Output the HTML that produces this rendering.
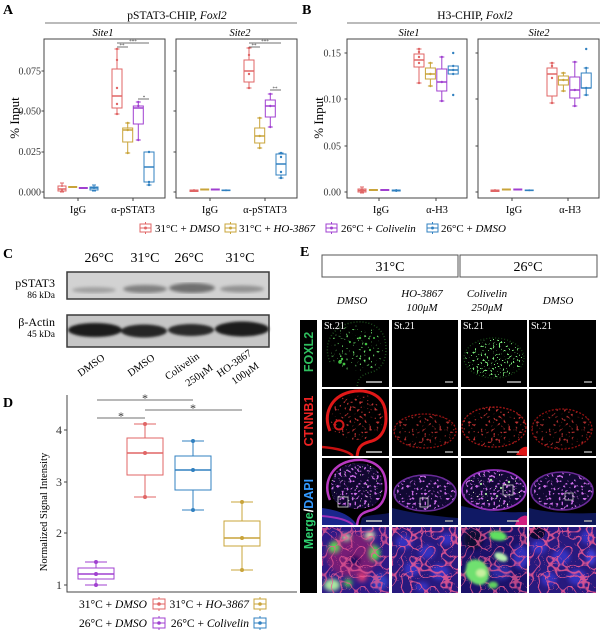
<!DOCTYPE html>
<html><head><meta charset="utf-8"><style>html,body{margin:0;padding:0;background:#fff}svg{display:block}</style></head>
<body>
<svg width="600" height="631" viewBox="0 0 600 631" xmlns="http://www.w3.org/2000/svg" font-family="'Liberation Serif', serif">
<style>
.r{stroke:#e06666;fill:none;stroke-width:1}
.y{stroke:#c9a43a;fill:none;stroke-width:1}
.p{stroke:#a040d0;fill:none;stroke-width:1}
.b{stroke:#3080c0;fill:none;stroke-width:1}
.r rect,.y rect,.p rect,.b rect{fill:#fff}
.m{stroke-width:1.5}
.rp{fill:#e06666}.yp{fill:#c9a43a}.pp{fill:#a040d0}.bp{fill:#3080c0}
.ax{stroke:#444;fill:none;stroke-width:1}
.tk{font-size:10px;fill:#333}
.sig{stroke:#444;stroke-width:0.8}
</style>
<defs>
<filter id="gsp" x="0" y="0" width="1" height="1"><feTurbulence type="fractalNoise" baseFrequency="0.45" numOctaves="1" seed="4" result="n"/><feColorMatrix in="n" type="matrix" values="0 0 0 0 0.15  0 0 0 0 0.75  0 0 0 0 0.15  12 0 0 0 -7.6" result="c"/><feComposite in="c" in2="SourceGraphic" operator="in"/></filter>
<filter id="gsp2" x="0" y="0" width="1" height="1"><feTurbulence type="fractalNoise" baseFrequency="0.5" numOctaves="1" seed="9" result="n"/><feColorMatrix in="n" type="matrix" values="0 0 0 0 0.2  0 0 0 0 0.85  0 0 0 0 0.2  12 0 0 0 -7.2" result="c"/><feComposite in="c" in2="SourceGraphic" operator="in"/></filter>
<filter id="rsp" x="0" y="0" width="1" height="1"><feTurbulence type="fractalNoise" baseFrequency="0.4" numOctaves="1" seed="7" result="n"/><feColorMatrix in="n" type="matrix" values="0 0 0 0 0.85  0 0 0 0 0.05  0 0 0 0 0.05  11 0 0 0 -6.6" result="c"/><feComposite in="c" in2="SourceGraphic" operator="in"/></filter>
<filter id="psp" x="0" y="0" width="1" height="1"><feTurbulence type="fractalNoise" baseFrequency="0.4" numOctaves="1" seed="12" result="n"/><feColorMatrix in="n" type="matrix" values="0 0 0 0 0.6  0 0 0 0 0.15  0 0 0 0 0.8  11 0 0 0 -6.4" result="c"/><feComposite in="c" in2="SourceGraphic" operator="in"/></filter>
<filter id="wsp" x="0" y="0" width="1" height="1"><feTurbulence type="fractalNoise" baseFrequency="0.5" numOctaves="1" seed="21" result="n"/><feColorMatrix in="n" type="matrix" values="0 0 0 0 0.9  0 0 0 0 1  0 0 0 0 0.7  14 0 0 0 -9.6" result="c"/><feComposite in="c" in2="SourceGraphic" operator="in"/></filter>
<filter id="pnet" x="0" y="0" width="1" height="1"><feTurbulence type="turbulence" baseFrequency="0.1" numOctaves="1" seed="3" result="n"/><feColorMatrix in="n" type="matrix" values="0 0 0 0 0.85  0 0 0 0 0.1  0 0 0 0 0.3  -20 0 0 0 1.5" result="c"/><feComposite in="c" in2="SourceGraphic" operator="in"/></filter>
<filter id="blur"><feGaussianBlur stdDeviation="1.6"/></filter>
<filter id="blur2"><feGaussianBlur stdDeviation="1.2"/></filter>
<filter id="blur3"><feGaussianBlur stdDeviation="2"/></filter>
</defs>
<rect width="600" height="631" fill="#fff"/>

<!-- ================= PANEL A ================= -->
<text x="3" y="14" font-size="14" font-weight="bold">A</text>
<text x="177" y="19" font-size="11.5" text-anchor="middle">pSTAT3-CHIP, <tspan font-style="italic">Foxl2</tspan></text>
<line x1="45" y1="23" x2="297" y2="23" stroke="#777" stroke-width="1"/>
<text x="103" y="36" font-size="10.5" font-style="italic" text-anchor="middle">Site1</text>
<text x="240" y="36" font-size="10.5" font-style="italic" text-anchor="middle">Site2</text>
<rect x="44" y="39" width="121" height="159" class="ax"/>
<rect x="176" y="39" width="121" height="159" class="ax"/>
<g class="tk" text-anchor="end">
<text x="41" y="74.5">0.075</text><text x="41" y="114.5">0.050</text><text x="41" y="155">0.025</text><text x="41" y="195.5">0.000</text>
</g>
<path class="ax" d="M41.5,71H44M41.5,111H44M41.5,152H44M41.5,192H44M173.5,71H176M173.5,111H176M173.5,152H176M173.5,192H176M78,198V201M133,198V201M210,198V201M265,198V201"/>
<text transform="translate(19,118) rotate(-90)" font-size="13" text-anchor="middle">% Input</text>
<g font-size="10.5" text-anchor="middle">
<text x="78" y="213">IgG</text><text x="133" y="213">α-pSTAT3</text>
<text x="210" y="213">IgG</text><text x="265" y="213">α-pSTAT3</text>
</g>
<!-- Site1 IgG -->
<g class="r"><path d="M62,183V186M62,191V192M60,183H64M60,192H64"/><rect x="58" y="186" width="8" height="5"/><path class="m" d="M58,189H66"/></g>
<g class="y"><path d="M72.7,186V188"/><rect x="68.7" y="186.5" width="8" height="1"/><path class="m" d="M68.7,187H76.7"/></g>
<g class="p"><path d="M83.3,187V189"/><rect x="79.3" y="187.5" width="8" height="1"/><path class="m" d="M79.3,188H87.3"/></g>
<g class="b"><path d="M94,185V187M94,190V191M92,185H96M92,191H96"/><rect x="90" y="187" width="8" height="3"/><path class="m" d="M90,188H98"/></g>
<!-- Site1 pSTAT3 -->
<g class="r"><path d="M117,49V69M117,108V114M114.5,49H119.5M114.5,114H119.5"/><rect x="112" y="69" width="10" height="39"/><path class="m" d="M112,96H122"/></g>
<g class="y"><path d="M127.7,123V128M127.7,142V153M125.2,123H130.2M125.2,153H130.2"/><rect x="122.7" y="128" width="10" height="14"/><path class="m" d="M122.7,130H132.7"/></g>
<g class="p"><path d="M138.3,102V106M138.3,124V140M135.8,102H140.8M135.8,140H140.8"/><rect x="133.3" y="106" width="10" height="18"/><path class="m" d="M133.3,108H143.3"/></g>
<g class="b"><path d="M149,182V185M146.5,152H151.5M146.5,185H151.5"/><rect x="144" y="152" width="10" height="30"/><path class="m" d="M144,167H154"/></g>
<g><circle class="rp" cx="117" cy="49" r="1.2"/><circle class="rp" cx="117" cy="60" r="1.2"/><circle class="rp" cx="117" cy="88" r="1.2"/><circle class="rp" cx="117" cy="104" r="1.2"/><circle class="rp" cx="117" cy="114" r="1.2"/>
<circle class="yp" cx="127.7" cy="123" r="1.2"/><circle class="yp" cx="127.7" cy="130" r="1.2"/><circle class="yp" cx="127.7" cy="153" r="1.2"/>
<circle class="pp" cx="138.3" cy="102" r="1.2"/><circle class="pp" cx="138.3" cy="106" r="1.2"/><circle class="pp" cx="138.3" cy="140" r="1.2"/>
<circle class="bp" cx="149" cy="152" r="1.2"/><circle class="bp" cx="149" cy="182" r="1.2"/><circle class="bp" cx="149" cy="185" r="1.2"/>
<circle class="rp" cx="62" cy="186" r="1"/><circle class="rp" cx="62" cy="190" r="1"/><circle class="yp" cx="72.7" cy="187" r="1"/><circle class="pp" cx="83.3" cy="188" r="1"/><circle class="bp" cx="94" cy="188" r="1"/></g>
<path class="sig" d="M117,43H149M117,47H128M138,99H149"/>
<g font-size="5" text-anchor="middle" fill="#444"><text x="133" y="43">***</text><text x="122" y="47">**</text><text x="144" y="99">*</text></g>
<!-- Site2 IgG -->
<g class="r"><path d="M194,189V192"/><rect x="190" y="190" width="8" height="1.5"/><path class="m" d="M190,191H198"/></g>
<g class="y"><path d="M204.7,188.5V190.5"/><rect x="200.7" y="189" width="8" height="1"/><path class="m" d="M200.7,189.5H208.7"/></g>
<g class="p"><path d="M215.3,188.5V190.5"/><rect x="211.3" y="189" width="8" height="1"/><path class="m" d="M211.3,189.5H219.3"/></g>
<g class="b"><path d="M226,189.5V191"/><rect x="222" y="190" width="8" height="0.6"/><path class="m" d="M222,190.3H230"/></g>
<!-- Site2 pSTAT3 -->
<g class="r"><path d="M249,48V60M249,82V88M246.5,48H251.5M246.5,88H251.5"/><rect x="244" y="60" width="10" height="22"/><path class="m" d="M244,71H254"/></g>
<g class="y"><path d="M259.7,118V128M259.7,143V148M257.2,118H262.2M257.2,148H262.2"/><rect x="254.7" y="128" width="10" height="15"/><path class="m" d="M254.7,136H264.7"/></g>
<g class="p"><path d="M270.3,94V100M270.3,117V127M267.8,94H272.8M267.8,127H272.8"/><rect x="265.3" y="100" width="10" height="17"/><path class="m" d="M265.3,106H275.3"/></g>
<g class="b"><path d="M281,153V154M281,175V178M278.5,153H283.5M278.5,178H283.5"/><rect x="276" y="154" width="10" height="21"/><path class="m" d="M276,164H286"/></g>
<g><circle class="rp" cx="249" cy="48" r="1.2"/><circle class="rp" cx="249" cy="55" r="1.2"/><circle class="rp" cx="249" cy="74" r="1.2"/><circle class="rp" cx="249" cy="88" r="1.2"/>
<circle class="yp" cx="259.7" cy="118" r="1.2"/><circle class="yp" cx="259.7" cy="136" r="1.2"/><circle class="yp" cx="259.7" cy="148" r="1.2"/>
<circle class="pp" cx="270.3" cy="94" r="1.2"/><circle class="pp" cx="270.3" cy="106" r="1.2"/><circle class="pp" cx="270.3" cy="127" r="1.2"/>
<circle class="bp" cx="281" cy="153" r="1.2"/><circle class="bp" cx="281" cy="157" r="1.2"/><circle class="bp" cx="281" cy="172" r="1.2"/><circle class="bp" cx="281" cy="178" r="1.2"/>
<circle class="rp" cx="194" cy="191" r="1"/><circle class="yp" cx="204.7" cy="189.5" r="1"/><circle class="pp" cx="215.3" cy="189.5" r="1"/><circle class="bp" cx="226" cy="190.3" r="1"/></g>
<path class="sig" d="M249,43H281M249,47H260M270,90H281"/>
<g font-size="5" text-anchor="middle" fill="#444"><text x="265" y="43">***</text><text x="254" y="47">**</text><text x="275" y="90">**</text></g>

<!-- ================= PANEL B ================= -->
<text x="302" y="14" font-size="14" font-weight="bold">B</text>
<text x="475" y="19" font-size="11.5" text-anchor="middle">H3-CHIP, <tspan font-style="italic">Foxl2</tspan></text>
<line x1="347" y1="23" x2="600" y2="23" stroke="#777" stroke-width="1"/>
<text x="409" y="36" font-size="10.5" font-style="italic" text-anchor="middle">Site1</text>
<text x="539" y="36" font-size="10.5" font-style="italic" text-anchor="middle">Site2</text>
<rect x="347" y="39" width="120" height="159" class="ax"/>
<rect x="478" y="39" width="121" height="159" class="ax"/>
<g class="tk" text-anchor="end">
<text x="341" y="56.5">0.15</text><text x="341" y="102.5">0.10</text><text x="341" y="149.5">0.05</text><text x="341" y="195.5">0.00</text>
</g>
<path class="ax" d="M344.5,53H347M344.5,99H347M344.5,146H347M344.5,192H347M475.5,53H478M475.5,99H478M475.5,146H478M475.5,192H478M379,198V201M436,198V201M512,198V201M568,198V201"/>
<text transform="translate(323,118) rotate(-90)" font-size="13" text-anchor="middle">% Input</text>
<g font-size="10.5" text-anchor="middle">
<text x="381" y="213">IgG</text><text x="437" y="213">α-H3</text>
<text x="514" y="213">IgG</text><text x="570" y="213">α-H3</text>
</g>
<!-- B Site1 IgG -->
<g class="r"><path d="M362,187V193M360,187H364M360,193H364"/><rect x="358" y="189" width="8" height="3"/><path class="m" d="M358,190.5H366"/></g>
<g class="y"><path d="M373.4,189V191"/><rect x="369.4" y="189.5" width="8" height="1"/><path class="m" d="M369.4,190H377.4"/></g>
<g class="p"><path d="M384.8,189V191"/><rect x="380.8" y="189.5" width="8" height="1"/><path class="m" d="M380.8,190H388.8"/></g>
<g class="b"><path d="M396.2,189V192"/><rect x="392.2" y="190" width="8" height="1"/><path class="m" d="M392.2,190.5H400.2"/></g>
<!-- B Site1 H3 -->
<g class="r"><path d="M419,49V54M419,67V83M416.5,49H421.5M416.5,83H421.5"/><rect x="414" y="54" width="10" height="13"/><path class="m" d="M414,60H424"/></g>
<g class="y"><path d="M430.4,63V68M430.4,79V86M427.9,63H432.9M427.9,86H432.9"/><rect x="425.4" y="68" width="10" height="11"/><path class="m" d="M425.4,74H435.4"/></g>
<g class="p"><path d="M441.8,57V69M441.8,91V101M439.3,57H444.3M439.3,101H444.3"/><rect x="436.8" y="69" width="10" height="22"/><path class="m" d="M436.8,82H446.8"/></g>
<g class="b"><path d="M450.7,66H455.7M450.7,74H455.7"/><rect x="448.2" y="66" width="10" height="8"/><path class="m" d="M448.2,70H458.2"/></g>
<g><circle class="rp" cx="419" cy="49" r="1.2"/><circle class="rp" cx="419" cy="52" r="1.2"/><circle class="rp" cx="419" cy="57" r="1.2"/><circle class="rp" cx="419" cy="63" r="1.2"/><circle class="rp" cx="419" cy="83" r="1.2"/>
<circle class="yp" cx="430.4" cy="63" r="1.2"/><circle class="yp" cx="430.4" cy="74" r="1.2"/><circle class="yp" cx="430.4" cy="86" r="1.2"/>
<circle class="pp" cx="441.8" cy="57" r="1.2"/><circle class="pp" cx="441.8" cy="82" r="1.2"/><circle class="pp" cx="441.8" cy="101" r="1.2"/>
<circle class="bp" cx="453.2" cy="53" r="1.2"/><circle class="bp" cx="453.2" cy="66" r="1.2"/><circle class="bp" cx="453.2" cy="70" r="1.2"/><circle class="bp" cx="453.2" cy="74" r="1.2"/><circle class="bp" cx="453.2" cy="95" r="1.2"/>
<circle class="rp" cx="362" cy="190.5" r="1.8"/><circle class="yp" cx="373.4" cy="190" r="1"/><circle class="pp" cx="384.8" cy="190" r="1"/><circle class="bp" cx="396.2" cy="190.5" r="1.3"/></g>
<!-- B Site2 IgG -->
<g class="r"><path d="M495,189V192"/><rect x="491" y="190" width="8" height="1.5"/><path class="m" d="M491,190.8H499"/></g>
<g class="y"><path d="M506.4,188.5V190.5"/><rect x="502.4" y="189" width="8" height="1"/><path class="m" d="M502.4,189.5H510.4"/></g>
<g class="p"><path d="M517.8,188.5V190.5"/><rect x="513.8" y="189" width="8" height="1"/><path class="m" d="M513.8,189.5H521.8"/></g>
<g class="b"><path d="M529.2,189.5V191"/><rect x="525.2" y="190" width="8" height="0.6"/><path class="m" d="M525.2,190.3H533.2"/></g>
<!-- B Site2 H3 -->
<g class="r"><path d="M552,63V68M552,96V103M549.5,63H554.5M549.5,103H554.5"/><rect x="547" y="68" width="10" height="28"/><path class="m" d="M547,74H557"/></g>
<g class="y"><path d="M563.4,73V76M563.4,85V91M560.9,73H565.9M560.9,91H565.9"/><rect x="558.4" y="76" width="10" height="9"/><path class="m" d="M558.4,80H568.4"/></g>
<g class="p"><path d="M574.8,62V77M574.8,98V106M572.3,62H577.3M572.3,106H577.3"/><rect x="569.8" y="77" width="10" height="21"/><path class="m" d="M569.8,90H579.8"/></g>
<g class="b"><path d="M586.2,68V73M586.2,88V95M583.7,68H588.7M583.7,95H588.7"/><rect x="581.2" y="73" width="10" height="15"/><path class="m" d="M581.2,88H591.2"/></g>
<g><circle class="rp" cx="552" cy="63" r="1.2"/><circle class="rp" cx="552" cy="66" r="1.2"/><circle class="rp" cx="552" cy="78" r="1.2"/><circle class="rp" cx="552" cy="103" r="1.2"/>
<circle class="yp" cx="563.4" cy="73" r="1.2"/><circle class="yp" cx="563.4" cy="80" r="1.2"/><circle class="yp" cx="563.4" cy="91" r="1.2"/>
<circle class="pp" cx="574.8" cy="62" r="1.2"/><circle class="pp" cx="574.8" cy="90" r="1.2"/><circle class="pp" cx="574.8" cy="106" r="1.2"/>
<circle class="bp" cx="586.2" cy="49" r="1.2"/><circle class="bp" cx="586.2" cy="68" r="1.2"/><circle class="bp" cx="586.2" cy="88" r="1.2"/><circle class="bp" cx="586.2" cy="95" r="1.2"/>
<circle class="rp" cx="495" cy="190.8" r="1"/><circle class="yp" cx="506.4" cy="189.5" r="1"/><circle class="pp" cx="517.8" cy="189.5" r="1"/><circle class="bp" cx="529.2" cy="190.3" r="1"/></g>

<!-- Top legend -->
<g font-size="11">
<g class="r"><rect x="140" y="224" width="11" height="8"/><path d="M145.5,222V224M145.5,232V234M140,228H151"/></g><circle class="rp" cx="145.5" cy="228" r="1.5"/>
<text x="155" y="232">31°C + <tspan font-style="italic">DMSO</tspan></text>
<g class="y"><rect x="225" y="224" width="11" height="8"/><path d="M230.5,222V224M230.5,232V234M225,228H236"/></g><circle class="yp" cx="230.5" cy="228" r="1.5"/>
<text x="239" y="232">31°C + <tspan font-style="italic">HO-3867</tspan></text>
<g class="p"><rect x="326" y="224" width="11" height="8"/><path d="M331.5,222V224M331.5,232V234M326,228H337"/></g><circle class="pp" cx="331.5" cy="228" r="1.5"/>
<text x="341" y="232">26°C + <tspan font-style="italic">Colivelin</tspan></text>
<g class="b"><rect x="427" y="224" width="11" height="8"/><path d="M432.5,222V224M432.5,232V234M427,228H438"/></g><circle class="bp" cx="432.5" cy="228" r="1.5"/>
<text x="441" y="232">26°C + <tspan font-style="italic">DMSO</tspan></text>
</g>

<!-- ================= PANEL C ================= -->
<text x="3" y="258" font-size="14" font-weight="bold">C</text>
<g font-size="14" text-anchor="middle">
<text x="99" y="262">26°C</text><text x="145" y="262">31°C</text><text x="189" y="262">26°C</text><text x="240" y="262">31°C</text>
</g>
<rect x="67" y="272" width="202" height="27" fill="#d2d2d2" stroke="#3a3a3a" stroke-width="1.5"/>
<g filter="url(#blur)">
<ellipse cx="94" cy="290" rx="22" ry="3" fill="#a0a0a0"/>
<ellipse cx="145" cy="289" rx="22" ry="4" fill="#808080"/>
<ellipse cx="192" cy="288" rx="23" ry="5" fill="#707070"/>
<ellipse cx="242" cy="289" rx="22" ry="3.5" fill="#929292"/>
</g>
<rect x="67" y="315" width="202" height="32" fill="#c6c6c6" stroke="#3a3a3a" stroke-width="1.5"/>
<g filter="url(#blur2)">
<ellipse cx="95" cy="330" rx="27" ry="7" fill="#1c1c1c"/>
<ellipse cx="144" cy="331" rx="23" ry="6.5" fill="#262626"/>
<ellipse cx="191" cy="330" rx="23" ry="6" fill="#2a2a2a"/>
<ellipse cx="242" cy="329" rx="27" ry="7.5" fill="#1a1a1a"/>
</g>
<g text-anchor="end">
<text x="55" y="287" font-size="12">pSTAT3</text><text x="55" y="298" font-size="9.5">86 kDa</text>
<text x="55" y="326" font-size="12">β-Actin</text><text x="55" y="337" font-size="9.5">45 kDa</text>
</g>
<g font-size="10.5" text-anchor="middle">
<text transform="translate(93,368) rotate(-35)">DMSO</text>
<text transform="translate(143,368) rotate(-35)">DMSO</text>
<text transform="translate(184,369) rotate(-35)">Colivelin</text>
<text transform="translate(201,378) rotate(-35)">250μM</text>
<text transform="translate(236,366) rotate(-35)">HO-3867</text>
<text transform="translate(247,376) rotate(-35)">100μM</text>
</g>

<!-- ================= PANEL D ================= -->
<text x="3" y="407" font-size="14" font-weight="bold">D</text>
<path class="ax" d="M67,395V592H297"/>
<path class="ax" d="M64,430H67M64,482H67M64,533H67M64,585H67"/>
<g font-size="12" text-anchor="end" fill="#333">
<text x="62" y="434">4</text><text x="62" y="486">3</text><text x="62" y="537">2</text><text x="62" y="589">1</text>
</g>
<text transform="translate(47,512) rotate(-90)" font-size="10.5" text-anchor="middle">Normalized Signal Intensity</text>
<path class="sig" d="M97,400H193M145,410H242M97,418H145" stroke-width="1"/>
<g font-size="12" text-anchor="middle" fill="#333"><text x="145" y="402">*</text><text x="193" y="412">*</text><text x="121" y="420">*</text></g>
<g class="p"><path d="M96,562V568M96,579V585M85,562H107M85,585H107"/><rect x="78" y="568" width="36" height="11"/><path class="m" d="M78,574H114"/></g>
<g class="r"><path d="M145,424V438M145,475V497M134,424H156M134,497H156"/><rect x="127" y="438" width="36" height="37"/><path class="m" d="M127,453H163"/></g>
<g class="b"><path d="M193,441V456M193,490V510M182,441H204M182,510H204"/><rect x="175" y="456" width="36" height="34"/><path class="m" d="M175,470H211"/></g>
<g class="y"><path d="M242,502V521M242,546V570M231,502H253M231,570H253"/><rect x="224" y="521" width="36" height="25"/><path class="m" d="M224,538H260"/></g>
<g><circle class="pp" cx="96" cy="562" r="2"/><circle class="pp" cx="96" cy="574" r="2"/><circle class="pp" cx="96" cy="585" r="2"/>
<circle class="rp" cx="145" cy="424" r="2"/><circle class="rp" cx="145" cy="453" r="2"/><circle class="rp" cx="145" cy="497" r="2"/>
<circle class="bp" cx="193" cy="441" r="2"/><circle class="bp" cx="193" cy="470" r="2"/><circle class="bp" cx="193" cy="510" r="2"/>
<circle class="yp" cx="242" cy="502" r="2"/><circle class="yp" cx="242" cy="538" r="2"/><circle class="yp" cx="242" cy="570" r="2"/></g>
<!-- D legend -->
<g font-size="11.5" text-anchor="end">
<text x="147" y="608">31°C + <tspan font-style="italic">DMSO</tspan></text>
<text x="249" y="608">31°C + <tspan font-style="italic">HO-3867</tspan></text>
<text x="147" y="627">26°C + <tspan font-style="italic">DMSO</tspan></text>
<text x="249" y="627">26°C + <tspan font-style="italic">Colivelin</tspan></text>
</g>
<g class="r"><rect x="153" y="599" width="12" height="10"/><path d="M159,597V599M159,609V611M153,604H165"/></g><circle class="rp" cx="159" cy="604" r="1.8"/>
<g class="y"><rect x="254" y="599" width="12" height="10"/><path d="M260,597V599M260,609V611M254,604H266"/></g><circle class="yp" cx="260" cy="604" r="1.8"/>
<g class="p"><rect x="153" y="618" width="12" height="10"/><path d="M159,616V618M159,628V630M153,623H165"/></g><circle class="pp" cx="159" cy="623" r="1.8"/>
<g class="b"><rect x="254" y="618" width="12" height="10"/><path d="M260,616V618M260,628V630M254,623H266"/></g><circle class="bp" cx="260" cy="623" r="1.8"/>

<!-- ================= PANEL E ================= -->
<text x="300" y="256" font-size="14" font-weight="bold">E</text>
<rect x="322" y="255" width="136" height="22" fill="#fff" stroke="#555" stroke-width="1"/>
<rect x="460" y="255" width="137" height="22" fill="#fff" stroke="#555" stroke-width="1"/>
<g font-size="14" text-anchor="middle"><text x="390" y="271">31°C</text><text x="528" y="271">26°C</text></g>
<g font-size="11" font-style="italic" text-anchor="middle">
<text x="352" y="304">DMSO</text>
<text x="422" y="297">HO-3867</text><text x="422" y="311">100μM</text>
<text x="487" y="297">Colivelin</text><text x="487" y="311">250μM</text>
<text x="558" y="304">DMSO</text>
</g>
<rect x="300" y="320" width="17" height="273" fill="#000"/>
<g font-family="'Liberation Sans', sans-serif" font-weight="bold" font-size="12.5" text-anchor="middle">
<text transform="translate(313,352) rotate(-90)" fill="#2fbf5f">FOXL2</text>
<text transform="translate(313,421) rotate(-90)" fill="#ee2222">CTNNB1</text>
<text transform="translate(313,514) rotate(-90)"><tspan fill="#2fd070">Merge</tspan><tspan fill="#ffffff">/</tspan><tspan fill="#3399ff">DAPI</tspan></text>
</g>

<!-- Row 1 FOXL2 -->
<svg x="322" y="320" width="67" height="67" viewBox="0 0 67 67">
<rect width="67" height="67" fill="#000"/>
<path d="M11,40 C5,26 11,10 28,6 C44,3 57,9 60,21 C62,34 59,45 48,49 C33,53 16,50 11,40Z" fill="#000" filter="url(#gsp)"/>
<path d="M8,42 C1,26 8,8 28,3 C45,-1 60,6 63,20 C66,35 62,48 50,52 C42,54 38,56 36,62 L35,67" stroke="#1d4d1d" stroke-width="1.5" fill="none" stroke-dasharray="1 2"/>
<g fill="#40c040"><circle cx="18" cy="42" r="1.8"/><circle cx="22" cy="44" r="1.4"/><circle cx="20" cy="39" r="1.2"/><circle cx="38" cy="18" r="1.2"/><circle cx="44" cy="24" r="1.3"/><circle cx="48" cy="30" r="1.1"/><circle cx="28" cy="22" r="1"/><circle cx="52" cy="18" r="1"/></g>
<text x="2" y="9" font-size="10" fill="#fff">St.21</text>
<line x1="44" y1="62" x2="60" y2="62" stroke="#ccc" stroke-width="1.5"/>
</svg>
<svg x="392" y="320" width="66" height="67" viewBox="0 0 66 67">
<rect width="66" height="67" fill="#000"/>
<text x="2" y="9" font-size="10" fill="#fff">St.21</text>
<line x1="53" y1="62" x2="61" y2="62" stroke="#aaa" stroke-width="1.5"/>
</svg>
<svg x="461" y="320" width="66" height="67" viewBox="0 0 66 67">
<rect width="66" height="67" fill="#000"/>
<ellipse cx="33" cy="38" rx="29" ry="19" fill="#000" filter="url(#gsp2)"/>
<ellipse cx="33" cy="38" rx="30" ry="20" fill="none" stroke="#164a16" stroke-width="1.2" stroke-dasharray="1 2"/>
<text x="2" y="9" font-size="10" fill="#fff">St.21</text>
<line x1="46" y1="62" x2="60" y2="62" stroke="#bbb" stroke-width="1.5"/>
</svg>
<svg x="529" y="320" width="67" height="67" viewBox="0 0 67 67">
<rect width="67" height="67" fill="#000"/>
<text x="2" y="9" font-size="10" fill="#fff">St.21</text>
<line x1="55" y1="62" x2="63" y2="62" stroke="#aaa" stroke-width="1.5"/>
</svg>

<!-- Row 2 CTNNB1 -->
<svg x="322" y="389" width="67" height="67" viewBox="0 0 67 67">
<rect width="67" height="67" fill="#000"/>
<path d="M11,40 C5,26 11,10 28,6 C44,3 57,9 60,21 C62,34 59,45 48,49 C33,53 16,50 11,40Z" fill="#000" filter="url(#rsp)" opacity="0.8"/>
<path d="M8,42 C1,26 8,8 28,3 C45,-1 60,6 63,20 C66,35 62,48 50,52 C42,54 38,56 36,62 L35,67" stroke="#e01818" stroke-width="3" fill="none"/>
<path d="M0,58 C12,59 25,61 31,67" stroke="#c81010" stroke-width="2.5" fill="none"/>
<circle cx="17" cy="36" r="4.5" stroke="#d01818" stroke-width="2" fill="none"/>
<line x1="44" y1="63" x2="60" y2="63" stroke="#ccc" stroke-width="1.5"/>
</svg>
<svg x="392" y="389" width="66" height="67" viewBox="0 0 66 67">
<rect width="66" height="67" fill="#000"/>
<ellipse cx="33" cy="42" rx="31" ry="17" fill="#000" filter="url(#rsp)" opacity="0.7"/>
<ellipse cx="33" cy="42" rx="31" ry="17" fill="none" stroke="#901010" stroke-width="1.3" stroke-dasharray="2 1.5"/>
<line x1="53" y1="63" x2="61" y2="63" stroke="#aaa" stroke-width="1.5"/>
</svg>
<svg x="461" y="389" width="66" height="67" viewBox="0 0 66 67">
<rect width="66" height="67" fill="#000"/>
<ellipse cx="33" cy="38" rx="32" ry="20" fill="#000" filter="url(#rsp)" opacity="0.8"/>
<ellipse cx="33" cy="38" rx="32" ry="20" fill="none" stroke="#a01515" stroke-width="1.3" stroke-dasharray="2 1.5"/>
<path d="M55,66 C58,60 63,57 66,58 L66,67Z" fill="#e01818"/>
<line x1="46" y1="63" x2="58" y2="63" stroke="#bbb" stroke-width="1.5"/>
</svg>
<svg x="529" y="389" width="67" height="67" viewBox="0 0 67 67">
<rect width="67" height="67" fill="#000"/>
<ellipse cx="33" cy="40" rx="30" ry="20" fill="#000" filter="url(#rsp)" opacity="0.7"/>
<ellipse cx="33" cy="40" rx="30" ry="20" fill="none" stroke="#901010" stroke-width="1.3" stroke-dasharray="2 1.5"/>
<line x1="55" y1="63" x2="63" y2="63" stroke="#aaa" stroke-width="1.5"/>
</svg>

<!-- Row 3 Merge -->
<svg x="322" y="458" width="67" height="67" viewBox="0 0 67 67">
<rect width="67" height="67" fill="#000"/>
<path d="M0,50 C15,52 28,56 35,67 L0,67Z" fill="#2030b0" opacity="0.8"/>
<path d="M40,60 C48,56 58,57 67,55 L67,67 L38,67Z" fill="#1a28a0" opacity="0.5"/>
<path d="M11,40 C5,26 11,10 28,6 C44,3 57,9 60,21 C62,34 59,45 48,49 C33,53 16,50 11,40Z" fill="#110730"/>
<path d="M11,40 C5,26 11,10 28,6 C44,3 57,9 60,21 C62,34 59,45 48,49 C33,53 16,50 11,40Z" fill="#000" filter="url(#psp)"/>
<path d="M11,40 C5,26 11,10 28,6 C44,3 57,9 60,21 C62,34 59,45 48,49 C33,53 16,50 11,40Z" fill="#000" filter="url(#wsp)" opacity="0.7"/>
<path d="M8,42 C1,26 8,8 28,3 C45,-1 60,6 63,20 C66,35 62,48 50,52 C42,54 38,56 36,62 L35,67" stroke="#b838c0" stroke-width="2.5" fill="none"/>
<path d="M0,58 C12,59 25,61 31,67" stroke="#a030b8" stroke-width="2" fill="none"/>
<rect x="16" y="39" width="10" height="10" fill="none" stroke="#ddd" stroke-width="0.8"/>
<line x1="44" y1="63" x2="60" y2="63" stroke="#ccc" stroke-width="1.5"/>
</svg>
<svg x="392" y="458" width="66" height="67" viewBox="0 0 66 67">
<rect width="66" height="67" fill="#000"/>
<path d="M0,50 C20,55 40,58 66,60 L66,67 L0,67Z" fill="#1a2aa0" opacity="0.55"/>
<ellipse cx="33" cy="35" rx="31" ry="18" fill="#110832"/>
<ellipse cx="33" cy="35" rx="31" ry="18" fill="#000" filter="url(#psp)"/>
<ellipse cx="33" cy="35" rx="31" ry="18" fill="none" stroke="#6a2a98" stroke-width="1.6"/>
<rect x="28" y="40" width="8" height="9" fill="none" stroke="#ccc" stroke-width="0.8"/>
<line x1="53" y1="63" x2="61" y2="63" stroke="#aaa" stroke-width="1.5"/>
</svg>
<svg x="461" y="458" width="66" height="67" viewBox="0 0 66 67">
<rect width="66" height="67" fill="#000"/>
<path d="M0,48 C20,52 35,55 66,54 L66,67 L0,67Z" fill="#1a2aa8" opacity="0.6"/>
<path d="M56,62 C60,58 64,57 66,58 L66,67 L54,67Z" fill="#d02080"/>
<ellipse cx="33" cy="32" rx="32" ry="20" fill="#120836"/>
<ellipse cx="33" cy="32" rx="32" ry="20" fill="#000" filter="url(#psp)"/>
<ellipse cx="33" cy="32" rx="29" ry="17" fill="#000" filter="url(#wsp)"/>
<g fill="#a8e8a0"><circle cx="20" cy="26" r="1.1"/><circle cx="30" cy="22" r="1.2"/><circle cx="40" cy="30" r="1.1"/><circle cx="48" cy="24" r="1.2"/><circle cx="25" cy="36" r="1.1"/><circle cx="36" cy="38" r="1"/></g>
<ellipse cx="33" cy="32" rx="32" ry="20" fill="none" stroke="#9030b8" stroke-width="1.8"/>
<rect x="42" y="27" width="10" height="10" fill="none" stroke="#ccc" stroke-width="0.8"/>
<line x1="46" y1="63" x2="58" y2="63" stroke="#bbb" stroke-width="1.5"/>
</svg>
<svg x="529" y="458" width="67" height="67" viewBox="0 0 67 67">
<rect width="67" height="67" fill="#000"/>
<path d="M0,50 C20,55 40,56 67,55 L67,67 L0,67Z" fill="#1a2aa0" opacity="0.55"/>
<ellipse cx="33" cy="33" rx="31" ry="19" fill="#110832"/>
<ellipse cx="33" cy="33" rx="31" ry="19" fill="#000" filter="url(#psp)"/>
<ellipse cx="33" cy="33" rx="31" ry="19" fill="none" stroke="#6a2a98" stroke-width="1.6"/>
<rect x="36" y="35" width="8" height="7" fill="none" stroke="#ccc" stroke-width="0.8"/>
<line x1="55" y1="63" x2="63" y2="63" stroke="#aaa" stroke-width="1.5"/>
</svg>

<!-- Row 4 zoom -->
<svg x="322" y="527" width="67" height="66" viewBox="0 0 67 66">
<rect width="67" height="66" fill="#2e1a86"/>
<g filter="url(#blur3)">
<ellipse cx="30" cy="28" rx="26" ry="22" fill="#b01e6a" opacity="0.55"/>
<ellipse cx="12" cy="20" rx="5" ry="5" fill="#50e050"/>
<ellipse cx="53" cy="26" rx="5" ry="7" fill="#50e050"/>
<ellipse cx="48" cy="8" rx="5" ry="4" fill="#d8d8b0"/>
<ellipse cx="24" cy="10" rx="4" ry="3" fill="#c8e8b0"/>
<ellipse cx="32" cy="34" rx="7" ry="6" fill="#1a1060"/>
<ellipse cx="10" cy="58" rx="8" ry="6" fill="#a8e8a0"/>
<ellipse cx="26" cy="56" rx="4" ry="4" fill="#50d050"/>
<ellipse cx="58" cy="55" rx="8" ry="8" fill="#3040c0"/>
<ellipse cx="40" cy="50" rx="5" ry="5" fill="#d03878"/>
</g>
<rect width="67" height="66" fill="#000" filter="url(#pnet)" opacity="0.75"/>
</svg>
<svg x="392" y="527" width="66" height="66" viewBox="0 0 66 66">
<rect width="66" height="66" fill="#281a7e"/>
<g filter="url(#blur3)" fill="#3838d0" opacity="0.8">
<ellipse cx="12" cy="15" rx="8" ry="7"/><ellipse cx="35" cy="25" rx="8" ry="7"/><ellipse cx="55" cy="12" rx="7" ry="6"/><ellipse cx="20" cy="42" rx="8" ry="7"/><ellipse cx="48" cy="45" rx="9" ry="8"/><ellipse cx="30" cy="60" rx="7" ry="5"/>
</g>
<rect width="66" height="66" fill="#000" filter="url(#pnet)" opacity="0.85"/>
</svg>
<svg x="461" y="527" width="66" height="66" viewBox="0 0 66 66">
<rect width="66" height="66" fill="#1c126a"/>
<g filter="url(#blur3)">
<ellipse cx="12" cy="12" rx="10" ry="10" fill="#080830"/>
<ellipse cx="60" cy="30" rx="8" ry="12" fill="#3a3ad0" opacity="0.8"/>
<ellipse cx="40" cy="45" rx="10" ry="8" fill="#3030b0" opacity="0.8"/>
</g>
<rect width="66" height="66" fill="#000" filter="url(#pnet)" opacity="0.75"/>
<g filter="url(#blur2)">
<path d="M28,6 C34,2 44,4 46,10 C44,15 36,14 30,12Z" fill="#60e060"/>
<ellipse cx="40" cy="30" rx="7" ry="4" fill="#b8f0b0" transform="rotate(25 40 30)"/>
<path d="M6,36 C12,30 22,32 26,40 C30,48 28,56 20,58 C12,58 6,52 4,46Z" fill="#70e070"/>
<ellipse cx="20" cy="46" rx="5" ry="4" fill="#c8f0a0"/>
<ellipse cx="32" cy="58" rx="5" ry="3.5" fill="#60d060"/>
</g>
</svg>
<svg x="529" y="527" width="67" height="66" viewBox="0 0 67 66">
<rect width="67" height="66" fill="#281a7e"/>
<g filter="url(#blur3)" fill="#3838d0" opacity="0.8">
<ellipse cx="10" cy="20" rx="8" ry="7"/><ellipse cx="32" cy="30" rx="9" ry="8"/><ellipse cx="58" cy="10" rx="6" ry="7"/><ellipse cx="62" cy="30" rx="5" ry="8" fill="#4a4af0"/><ellipse cx="20" cy="52" rx="8" ry="7"/><ellipse cx="48" cy="50" rx="9" ry="8"/>
</g>
<ellipse cx="8" cy="6" rx="8" ry="6" fill="#0a0830"/>
<rect width="67" height="66" fill="#000" filter="url(#pnet)" opacity="0.85"/>
</svg>
</svg>
</body></html>
